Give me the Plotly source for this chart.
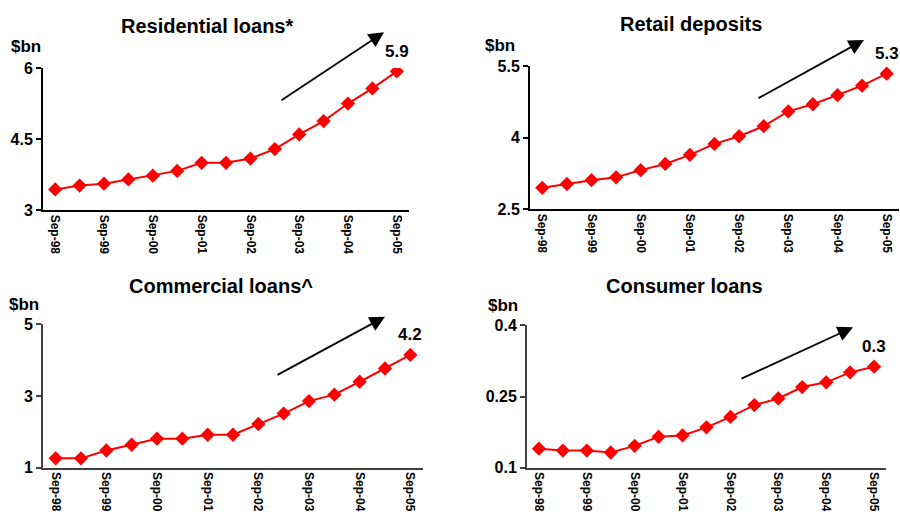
import plotly.graph_objects as go

# Half-yearly observation dates, Sep-98 .. Sep-05
periods = ["Sep-98", "Mar-99", "Sep-99", "Mar-00", "Sep-00", "Mar-01", "Sep-01", "Mar-02",
           "Sep-02", "Mar-03", "Sep-03", "Mar-04", "Sep-04", "Mar-05", "Sep-05"]

residential_loans = [3.44, 3.52, 3.56, 3.65, 3.73, 3.83, 4.00, 4.00, 4.09, 4.29, 4.60, 4.88, 5.25, 5.57, 5.93]
retail_deposits = [2.95, 3.03, 3.11, 3.17, 3.32, 3.45, 3.64, 3.87, 4.03, 4.24, 4.55, 4.70, 4.89, 5.09, 5.34]
commercial_loans = [1.26, 1.26, 1.48, 1.64, 1.81, 1.81, 1.92, 1.92, 2.22, 2.51, 2.86, 3.04, 3.40, 3.77, 4.15]
consumer_loans = [0.140, 0.136, 0.136, 0.132, 0.146, 0.165, 0.168, 0.185, 0.207, 0.232, 0.246, 0.270, 0.280, 0.301, 0.313]

panel_titles = ["Residential loans*", "Retail deposits", "Commercial loans^", "Consumer loans"]
end_labels = ["5.9", "5.3", "4.2", "0.3"]
y_ticks = [[3, 4.5, 6], [2.5, 4, 5.5], [1, 3, 5], [0.1, 0.25, 0.4]]
y_tick_text = [["3", "4.5", "6"], ["2.5", "4", "5.5"], ["1", "3", "5"], ["0.1", "0.25", "0.4"]]
series = [residential_loans, retail_deposits, commercial_loans, consumer_loans]

W, H = 900, 527
FONT = "Arial, Liberation Sans, Helvetica, sans-serif"

# Plot-area rectangles in pixels: (left, right, top, bottom)
boxes = [(43, 409, 62, 209), (530, 899, 60, 208), (43, 423, 327, 475), (527, 886, 328, 475)]
axis_colors = ["#000000", "#000000", "#404040", "#404040"]
title_pos = [(207, 19), (691, 17), (221, 287), (684, 287)]
unit_pos = [(26, 40), (500, 39), (24, 306), (503, 307)]
# Trend arrows: (tail x, tail y, tip x, tip y) in pixels
arrows = [(280, 94, 384, 25), (757, 92, 864, 33), (276, 378, 385, 319), (740, 382, 853, 330)]

def px(x):
    return x / W

def py(y):
    return 1 - y / H

fig = go.Figure()
x_idx = list(range(len(periods)))
tick_idx = x_idx[::2]
annotations = []

for i, vals in enumerate(series):
    n = "" if i == 0 else str(i + 1)
    fig.add_trace(go.Scatter(
        x=x_idx, y=vals, mode="lines+markers",
        line=dict(color="#FF0000", width=2),
        marker=dict(symbol="diamond", size=11, color="#FF0000"),
        xaxis="x" + n, yaxis="y" + n, showlegend=False,
        hovertext=periods, hoverinfo="text+y",
    ))
    l, r, t, b = boxes[i]
    col = axis_colors[i]
    fig.layout["xaxis" + n] = dict(
        domain=[px(l), px(r)], anchor="y" + n,
        range=[-0.5, len(periods) - 0.5],
        tickmode="array", tickvals=tick_idx, ticktext=[periods[k] for k in tick_idx],
        tickangle=90, tickfont=dict(family=FONT, size=12, color="#000", weight="bold"),
        showline=True, linecolor=col, linewidth=2, showgrid=False, zeroline=False,
        ticks="", fixedrange=True,
    )
    fig.layout["yaxis" + n] = dict(
        domain=[py(b), py(t)], anchor="x" + n,
        range=[y_ticks[i][0], y_ticks[i][-1]],
        tickmode="array", tickvals=y_ticks[i], ticktext=y_tick_text[i],
        tickfont=dict(family=FONT, size=16, color="#000", weight="bold"),
        showline=True, linecolor=col, linewidth=2, showgrid=False, zeroline=False,
        ticks="outside", ticklen=5, tickwidth=2, tickcolor=col, fixedrange=True,
    )
    # Panel title
    tx, ty = title_pos[i]
    annotations.append(dict(text="<b>%s</b>" % panel_titles[i], x=px(tx), y=py(ty),
                            xref="paper", yref="paper", showarrow=False,
                            xanchor="center", yanchor="middle",
                            font=dict(family=FONT, size=20, color="#000")))
    # Unit label
    ux, uy = unit_pos[i]
    annotations.append(dict(text="<b>$bn</b>", x=px(ux), y=py(uy),
                            xref="paper", yref="paper", showarrow=False,
                            xanchor="center", yanchor="middle",
                            font=dict(family=FONT, size=17, color="#000")))
    # Latest value label above the last point
    annotations.append(dict(text="<b>%s</b>" % end_labels[i], x=x_idx[-1], y=vals[-1],
                            xref="x" + n, yref="y" + n, showarrow=False,
                            xanchor="center", yanchor="middle", yshift=20,
                            font=dict(family=FONT, size=17, color="#000")))
    # Trend arrow
    x0, y0, x1, y1 = arrows[i]
    annotations.append(dict(text="", x=px(x1), y=py(y1), xref="paper", yref="paper",
                            ax=x0 - x1, ay=y0 - y1, axref="pixel", ayref="pixel",
                            showarrow=True, arrowhead=2, arrowsize=1.7, arrowwidth=1.8,
                            arrowcolor="#000"))

fig.update_layout(
    width=W, height=H,
    margin=dict(l=0, r=0, t=0, b=0),
    paper_bgcolor="#FFFFFF", plot_bgcolor="#FFFFFF",
    annotations=annotations,
    font=dict(family=FONT),
)

fig.write_html("out.html", post_script="document.body.style.margin='0';")
